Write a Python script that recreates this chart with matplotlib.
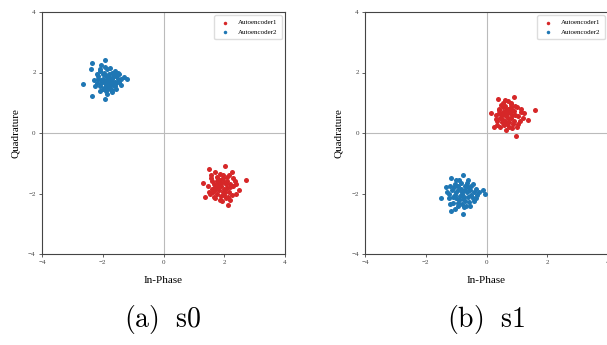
import matplotlib
matplotlib.use("Agg")
import matplotlib.pyplot as plt

plt.rcParams.update({
    "font.family": "Liberation Serif",
    "mathtext.fontset": "cm",
    "axes.edgecolor": "#444444",
    "xtick.color": "#444444",
    "ytick.color": "#444444",
})

RED = "#d62728"
BLUE = "#1f77b4"

# ---- s0 ----
s0_blue_x = [-2.65, -1.93, -1.19, -1.93, -2.35, -2.40, -2.35, -2.05, -1.75, -1.60, -1.45, -1.30, -1.40, -1.55,
             -1.70, -1.85, -2.10, -2.25, -2.30, -2.20, -2.10, -1.95, -1.80, -1.65, -1.70, -1.85, -2.00, -2.15,
             -2.05, -1.90, -1.75, -1.60, -1.50, -1.95, -2.10, -1.80, -1.70, -1.55, -1.85, -2.00, -2.20, -1.65,
             -1.75, -1.90, -1.60, -1.45, -2.05, -1.80, -1.95, -1.70, -1.50, -1.85, -2.15, -1.62, -1.88, -2.00,
             -1.55, -1.40, -1.78, -2.08, -1.68, -1.92]
s0_blue_y = [1.63, 2.40, 1.77, 1.13, 2.31, 2.10, 1.21, 2.25, 2.15, 2.05, 1.95, 1.85, 1.60, 1.45,
             1.35, 1.30, 1.40, 1.55, 1.75, 1.95, 2.05, 2.00, 1.95, 1.85, 1.70, 1.75, 1.80, 1.80,
             1.65, 1.60, 1.55, 1.70, 1.80, 1.50, 1.55, 1.85, 2.00, 1.90, 2.10, 1.95, 1.65, 1.60,
             1.45, 1.90, 1.55, 1.70, 1.75, 1.65, 1.70, 1.80, 2.00, 1.50, 1.90, 1.95, 1.40, 1.45,
             1.65, 1.80, 1.72, 2.12, 1.42, 2.18]
s0_red_x = [2.02, 1.31, 1.49, 2.71, 2.13, 1.36, 2.48, 1.70, 1.85, 2.15, 2.30, 2.40, 2.25, 2.05,
            1.85, 1.65, 1.50, 1.45, 1.55, 1.75, 1.95, 2.10, 2.20, 2.00, 1.80, 1.65, 1.75, 1.90,
            2.05, 1.95, 1.75, 1.60, 1.85, 2.15, 2.30, 1.70, 2.00, 1.90, 1.80, 2.10, 1.60, 2.35,
            1.95, 1.70, 2.20, 1.88, 2.08, 1.58, 2.25, 1.82, 1.98, 1.68, 2.12, 1.92, 1.52, 2.40,
            1.78, 2.02, 1.62, 2.18]
s0_red_y = [-1.09, -1.65, -1.18, -1.54, -2.39, -2.12, -1.90, -1.30, -1.35, -1.40, -1.50, -1.70, -2.05, -2.15,
            -2.20, -2.10, -1.95, -1.75, -1.50, -1.45, -1.50, -1.60, -1.80, -1.85, -1.80, -1.70, -1.60, -1.65,
            -1.70, -1.95, -2.00, -1.85, -1.55, -1.95, -1.75, -1.90, -2.05, -1.75, -1.70, -1.45, -1.60, -1.60,
            -1.40, -2.15, -2.20, -2.08, -1.82, -1.40, -1.30, -1.88, -1.62, -1.78, -2.10, -2.25, -2.02, -2.00,
            -1.52, -1.95, -1.95, -1.68]

# ---- s1 ----
s1_red_x = [0.39, 0.89, 0.16, 1.59, 0.96, 0.25, 1.35, 0.55, 0.70, 0.80, 1.00, 1.15, 1.20, 1.05,
            0.85, 0.65, 0.45, 0.35, 0.30, 0.40, 0.55, 0.70, 0.85, 0.95, 0.80, 0.65, 0.50, 0.60,
            0.75, 0.90, 0.55, 0.70, 0.85, 0.45, 0.60, 1.05, 0.75, 0.50, 0.95, 0.65, 0.40, 1.10,
            0.80, 0.58, 0.72, 0.88, 0.48, 1.25, 0.62, 0.35, 0.78, 0.68, 0.92, 0.52, 1.00, 0.42,
            0.82, 0.60, 1.12, 0.30]
s1_red_y = [1.12, 1.20, 0.66, 0.77, -0.11, 0.19, 0.44, 1.00, 1.05, 0.95, 0.85, 0.70, 0.50, 0.30,
            0.15, 0.10, 0.20, 0.40, 0.60, 0.80, 0.85, 0.80, 0.75, 0.60, 0.50, 0.55, 0.60, 0.40,
            0.35, 0.40, 0.70, 0.65, 0.60, 0.50, 0.90, 0.55, 0.20, 0.35, 0.90, 0.75, 0.65, 0.40,
            0.85, 0.25, 0.48, 0.30, 0.92, 0.65, 1.10, 0.25, 0.68, 0.30, 0.72, 0.45, 0.20, 0.75,
            1.00, 0.62, 0.80, 0.45]
s1_blue_x = [-1.50, -0.76, -1.17, -0.76, -1.17, -0.04, -0.13, -1.00, -0.60, -0.45, -0.35, -0.30, -0.40, -0.55,
             -0.75, -0.95, -1.10, -1.25, -1.30, -1.20, -1.05, -0.85, -0.70, -0.55, -0.60, -0.80, -0.95, -1.05,
             -0.90, -0.70, -0.50, -0.65, -0.85, -1.00, -1.15, -0.75, -0.95, -0.45, -0.80, -1.05, -0.60, -0.88,
             -0.72, -1.20, -0.50, -0.35, -1.00, -0.68, -0.90, -1.32, -0.58, -0.82, -1.10, -0.25, -0.95, -0.65,
             -1.22, -0.78, -0.42, -1.08]
s1_blue_y = [-2.15, -1.38, -1.49, -2.67, -2.57, -2.02, -1.87, -1.55, -1.55, -1.70, -1.85, -2.05, -2.25, -2.40,
             -2.45, -2.40, -2.30, -2.15, -1.95, -1.75, -1.70, -1.65, -1.75, -1.90, -2.10, -2.00, -1.90, -2.05,
             -2.20, -2.25, -2.05, -1.95, -1.85, -2.15, -1.90, -2.10, -1.75, -2.15, -2.35, -2.50, -1.80, -2.08,
             -1.88, -2.35, -1.75, -2.15, -1.95, -2.40, -1.55, -1.80, -2.28, -1.95, -2.10, -1.95, -2.30, -1.65,
             -2.00, -2.18, -1.95, -1.80]

panels = [
    ("(a)\\ \\ s0", s0_red_x, s0_red_y, s0_blue_x, s0_blue_y),
    ("(b)\\ \\ s1", s1_red_x, s1_red_y, s1_blue_x, s1_blue_y),
]

W, H = 607, 345
fig = plt.figure(figsize=(W / 100, H / 100), dpi=100)
lefts = [42, 365]
for left, (cap, rx, ry, bx, by) in zip(lefts, panels):
    ax = fig.add_axes([left / W, 1 - 254 / H, 243 / W, 242 / H])
    ax.axhline(0, color="#bbbbbb", lw=0.8, zorder=0)
    ax.axvline(0, color="#bbbbbb", lw=0.8, zorder=0)
    ax.scatter(rx, ry, s=13, color=RED, label="Autoencoder1", linewidths=0)
    ax.scatter(bx, by, s=13, color=BLUE, label="Autoencoder2", linewidths=0)
    ax.set_xlim(-4, 4)
    ax.set_ylim(-4, 4)
    ax.set_xticks([-4, -2, 0, 2, 4])
    ax.set_yticks([-4, -2, 0, 2, 4])
    ax.tick_params(labelsize=5, length=2.5, width=0.6, pad=2)
    for sp in ax.spines.values():
        sp.set_linewidth(0.8)
    ax.set_xlabel("In-Phase", fontsize=8, labelpad=8)
    ax.set_ylabel("Quadrature", fontsize=8, labelpad=6)
    ax.legend(loc="upper right", fontsize=5, markerscale=0.7, handletextpad=0.8,
              borderpad=0.6, framealpha=1, edgecolor="#dddddd")
    fig.text((left + 121) / W, 1 - 320 / H, "$\\mathrm{" + cap + "}$", fontsize=20,
             ha="center", va="center")

fig.savefig("out.png", dpi=100)
